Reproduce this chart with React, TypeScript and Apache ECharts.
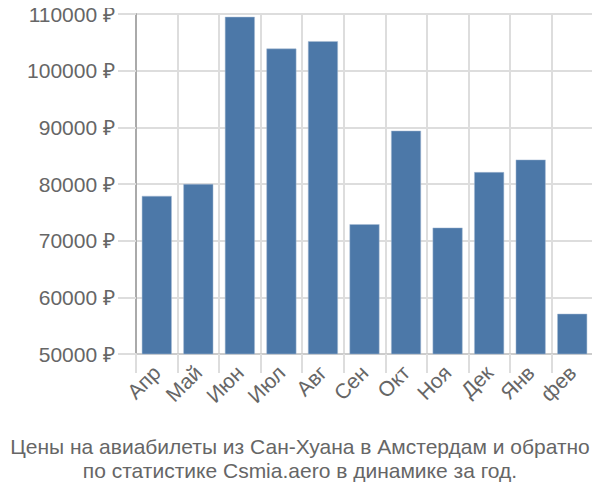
import React, { useEffect, useRef } from "react";
import * as echarts from "echarts";

const categories = ["Апр", "Май", "Июн", "Июл", "Авг", "Сен", "Окт", "Ноя", "Дек", "Янв", "фев"];
const prices = [77900, 80000, 109500, 103900, 105200, 72900, 89400, 72300, 82100, 84300, 57100];
const titleLines = [
  "Цены на авиабилеты из Сан-Хуана в Амстердам и обратно",
  "по статистике Csmia.aero в динамике за год.",
];

export default function App() {
  const ref = useRef<HTMLDivElement>(null);
  useEffect(() => {
    if (!ref.current) return;
    const chart = echarts.init(ref.current, undefined, { renderer: "svg" });
    chart.setOption({
      animation: false,
      textStyle: { fontFamily: "Liberation Sans, Arial, sans-serif" },
      title: {
        text: titleLines.join("\n"),
        left: "center",
        bottom: 13,
        textStyle: {
          color: "#666",
          fontSize: 21,
          fontWeight: "normal",
          lineHeight: 24,
          fontFamily: "Liberation Sans, Arial, sans-serif",
        },
      },
      grid: { left: 136, right: 7, top: 14, bottom: 146, containLabel: false },
      xAxis: {
        type: "category",
        data: categories,
        axisLine: { lineStyle: { color: "#ccc", width: 2 } },
        axisTick: { show: true, length: 19, lineStyle: { color: "#ddd", width: 2 } },
        splitLine: { show: true, lineStyle: { color: "#ddd", width: 2 } },
        axisLabel: { rotate: 45, color: "#666", fontSize: 21, margin: 15, interval: 0 },
      },
      yAxis: {
        type: "value",
        min: 50000,
        max: 110000,
        interval: 10000,
        axisLine: { show: true, lineStyle: { color: "#aaa", width: 2 } },
        axisTick: { show: true, length: 18, lineStyle: { color: "#ddd", width: 2 } },
        splitLine: { show: true, lineStyle: { color: "#ddd", width: 2 } },
        axisLabel: {
          color: "#666",
          fontSize: 21,
          margin: 21,
          formatter: (v: number) => v + " ₽",
        },
      },
      series: [
        {
          type: "bar",
          data: prices,
          barCategoryGap: "28%",
          itemStyle: { color: "#4c78a8", borderColor: "#a9bdd4", borderWidth: 0.5 },
        },
      ],
    });
    return () => chart.dispose();
  }, []);
  return <div ref={ref} style={{ width: 600, height: 500, margin: -8 }} />;
}
